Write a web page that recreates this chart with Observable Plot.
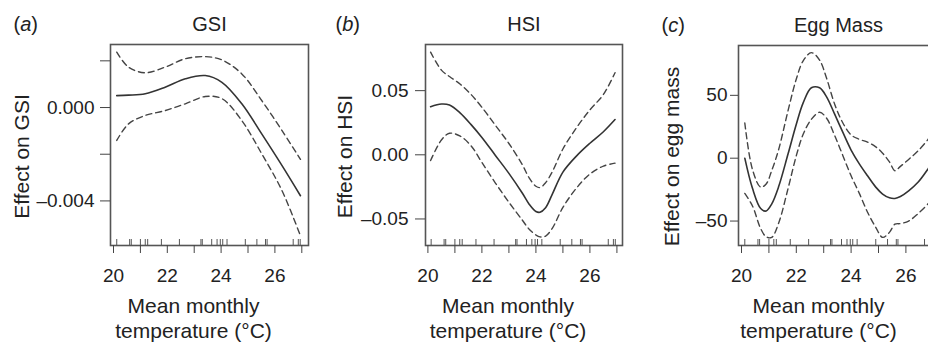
<!DOCTYPE html>
<html>
<head>
<meta charset="utf-8">
<script src="https://cdn.jsdelivr.net/npm/d3@7"></script>
<script src="https://cdn.jsdelivr.net/npm/@observablehq/plot@0.6"></script>
<style>
  html, body { margin: 0; padding: 0; background: #fff; }
  #chart { position: relative; width: 928px; height: 343px; overflow: hidden; background: #fff; }
</style>
</head>
<body>
<div id="chart"></div>
<script>
// ---- Data ----
// Rug: observed mean monthly temperatures (°C)
const rugTemps = [20.12, 20.6, 20.66, 21.0, 21.18, 21.27, 21.78, 22.45, 23.25, 23.3, 23.65, 23.85, 23.97, 24.06, 24.22, 24.9, 25.33, 25.65, 25.71, 26.68, 26.87, 26.94];

// Panel (a) GSI
const gsiTemp  = [20.12, 20.56, 21.18, 21.92, 22.67, 23.41, 24.03, 24.77, 25.51, 26.26, 26.95];
const gsiFit   = [0.00051, 0.00053, 0.00059, 0.00087, 0.00123, 0.00137, 0.00108, 0.00016, -0.00113, -0.00248, -0.00378];
const gsiUpper = [0.00237, 0.00173, 0.00149, 0.00173, 0.00209, 0.00218, 0.00204, 0.00144, 0.0003, -0.00098, -0.00222];
const gsiLower = [-0.00141, -0.0007, -0.00034, -0.00013, 0.00016, 0.00047, 0.00038, -0.00056, -0.00198, -0.00355, -0.0055];

// Panel (b) HSI
const hsiTemp  = [20.1, 20.5, 20.8, 21.2, 21.6, 22.0, 22.5, 23.0, 23.5, 23.75, 24.0, 24.15, 24.35, 24.6, 25.0, 25.5, 26.0, 26.5, 26.93];
const hsiFit   = [0.0375, 0.0396, 0.0388, 0.0325, 0.0235, 0.0135, -0.0005, -0.0145, -0.030, -0.0385, -0.0442, -0.0448, -0.0415, -0.031, -0.0135, -0.001, 0.009, 0.018, 0.0275];
const hsiUpper = [0.080, 0.066, 0.061, 0.055, 0.047, 0.037, 0.023, 0.0088, -0.0078, -0.018, -0.0245, -0.0255, -0.022, -0.0135, 0.0045, 0.021, 0.035, 0.047, 0.064];
const hsiLower = [-0.0045, 0.0115, 0.0168, 0.0145, 0.007, -0.006, -0.022, -0.037, -0.051, -0.058, -0.0625, -0.064, -0.0635, -0.0575, -0.041, -0.026, -0.015, -0.0088, -0.0065];

// Panel (c) Egg mass
const eggTemp  = [20.12, 20.4, 20.7, 20.9, 21.1, 21.35, 21.7, 22.0, 22.25, 22.55, 22.85, 23.1, 23.4, 23.7, 24.0, 24.3, 24.6, 24.9, 25.15, 25.4, 25.6, 25.8, 26.1, 26.45, 26.81, 26.93];
const eggFit   = [0, -24, -40, -42, -36.5, -23, 3.5, 27, 44, 56, 56, 49, 35, 20.5, 6.5, -4.5, -14, -23, -28.5, -31.5, -32, -30.5, -26, -19, -8.5, -4.5];
const eggUpper = [28, -9, -23, -20.5, -10, 6.5, 38, 63, 77.5, 84, 78, 64, 43, 28, 18.5, 15, 12.8, 9, 4, -3, -10, -6.5, -1, 6, 15, 19];
const eggLower = [-28, -38, -56, -62.5, -63, -52, -24, 2, 19, 31, 36.5, 32, 18, 2, -14, -28, -43, -55, -63, -59, -52.5, -52, -50, -44, -36.3, -33];

// Axis ticks and labels
const xTickValues = [20, 21, 22, 23, 24, 25, 26, 27];
const xTickLabels = ["20", "", "22", "", "24", "", "26", ""];
const gsiYTicks  = [-0.004, -0.002, 0, 0.002];
const gsiYLabels = ["\u20130.004", "", "0.000", ""];
const hsiYTicks  = [-0.05, 0, 0.05];
const hsiYLabels = ["\u20130.05", "0.00", "0.05"];
const eggYTicks  = [-50, 0, 50];
const eggYLabels = ["\u201350", "0", "50"];

const titles  = ["GSI", "HSI", "Egg Mass"];
const letters = ["a", "b", "c"];
const yTitles = ["Effect on GSI", "Effect on HSI", "Effect on egg mass"];
const xTitle  = "Mean monthly\ntemperature (\u00B0C)";

// ---- Drawing ----
const fontFamily = "'Liberation Sans', Arial, Helvetica, sans-serif";
const container = document.getElementById("chart");

function panel(cfg) {
  const rows = cfg.x.map((x, i) => ({x, fit: cfg.fit[i], up: cfg.up[i], lo: cfg.lo[i]}));
  const frameH = 245 - cfg.marginTop;
  const svg = Plot.plot({
    width: cfg.width,
    height: 343,
    marginLeft: cfg.marginLeft,
    marginRight: cfg.marginRight,
    marginTop: cfg.marginTop,
    marginBottom: 98,
    x: {domain: cfg.xDomain},
    y: {domain: cfg.yDomain},
    style: {fontFamily, fontSize: "19px", color: "#222", background: "transparent", maxWidth: "none", overflow: "visible"},
    marks: [
      Plot.ruleX(rugTemps, {stroke: "#555", strokeWidth: 1, insetTop: frameH - 6}),
      Plot.line(rows, {x: "x", y: "up", stroke: "#444", strokeWidth: 1.4, strokeDasharray: "6,4", curve: "catmull-rom"}),
      Plot.line(rows, {x: "x", y: "lo", stroke: "#444", strokeWidth: 1.4, strokeDasharray: "6,4", curve: "catmull-rom"}),
      Plot.line(rows, {x: "x", y: "fit", stroke: "#333", strokeWidth: 1.6, curve: "catmull-rom"}),
      Plot.frame({stroke: "#555", strokeWidth: 1.6}),
      Plot.axisX({ticks: xTickValues, tickSize: 8, tickPadding: 15, stroke: "#444",
        tickFormat: d => xTickLabels[xTickValues.indexOf(d)], label: null, fontSize: 19}),
      Plot.axisY({ticks: cfg.yTicks, tickSize: cfg.yTickSize, tickPadding: cfg.yTickPadding, stroke: "#444",
        tickFormat: d => cfg.yLabels[cfg.yTicks.indexOf(d)], label: null, fontSize: 19}),
      Plot.text([cfg.title], {frameAnchor: "top", lineAnchor: "middle", textAnchor: "middle", dy: -20, fontSize: 20, fill: "#222"}),
      Plot.text(["(" + cfg.letter + ")"], {frameAnchor: "top-left", lineAnchor: "middle", textAnchor: "start", dx: cfg.letterDx, dy: -20, fontSize: 20, fill: "#222"}),
      Plot.text([cfg.yTitle], {frameAnchor: "left", rotate: -90, textAnchor: "middle", lineAnchor: "middle", dx: cfg.yTitleDx, dy: 156 - (cfg.marginTop + 245) / 2, fontSize: 21, fill: "#222"}),
      Plot.text([xTitle], {frameAnchor: "bottom", lineAnchor: "top", textAnchor: "middle", dx: cfg.xTitleDx, dy: 50, fontSize: 21, lineHeight: 1.19, fill: "#222"})
    ]
  });
  svg.style.position = "absolute";
  svg.style.left = cfg.left + "px";
  svg.style.top = "0px";
  svg.querySelectorAll("text").forEach(t => {
    if (t.textContent === "(" + cfg.letter + ")") {
      t.innerHTML = '(<tspan font-style="italic">' + cfg.letter + '</tspan>)';
    }
  });
  container.appendChild(svg);
}

panel({
  left: 0, width: 320, marginLeft: 110, marginRight: 12, marginTop: 44,
  xDomain: [19.888, 27.249], yDomain: [-0.00591, 0.0027],
  x: gsiTemp, fit: gsiFit, up: gsiUpper, lo: gsiLower,
  yTicks: gsiYTicks, yLabels: gsiYLabels, yTickSize: 10, yTickPadding: 6,
  title: titles[0], letter: letters[0], yTitle: yTitles[0],
  letterDx: -97, yTitleDx: -88, xTitleDx: -16
});

panel({
  left: 310, width: 320, marginLeft: 115, marginRight: 8, marginTop: 44,
  xDomain: [19.911, 27.207], yDomain: [-0.07069, 0.08597],
  x: hsiTemp, fit: hsiFit, up: hsiUpper, lo: hsiLower,
  yTicks: hsiYTicks, yLabels: hsiYLabels, yTickSize: 10, yTickPadding: 7,
  title: titles[1], letter: letters[1], yTitle: yTitles[1],
  letterDx: -90, yTitleDx: -80, xTitleDx: -16
});

panel({
  left: 620, width: 330, marginLeft: 118, marginRight: 12, marginTop: 45,
  xDomain: [19.89, 27.19], yDomain: [-69.45, 89.65],
  x: eggTemp, fit: eggFit, up: eggUpper, lo: eggLower,
  yTicks: eggYTicks, yLabels: eggYLabels, yTickSize: 8, yTickPadding: 3,
  title: titles[2], letter: letters[2], yTitle: yTitles[2],
  letterDx: -77, yTitleDx: -66, xTitleDx: -20
});
</script>
</body>
</html>
